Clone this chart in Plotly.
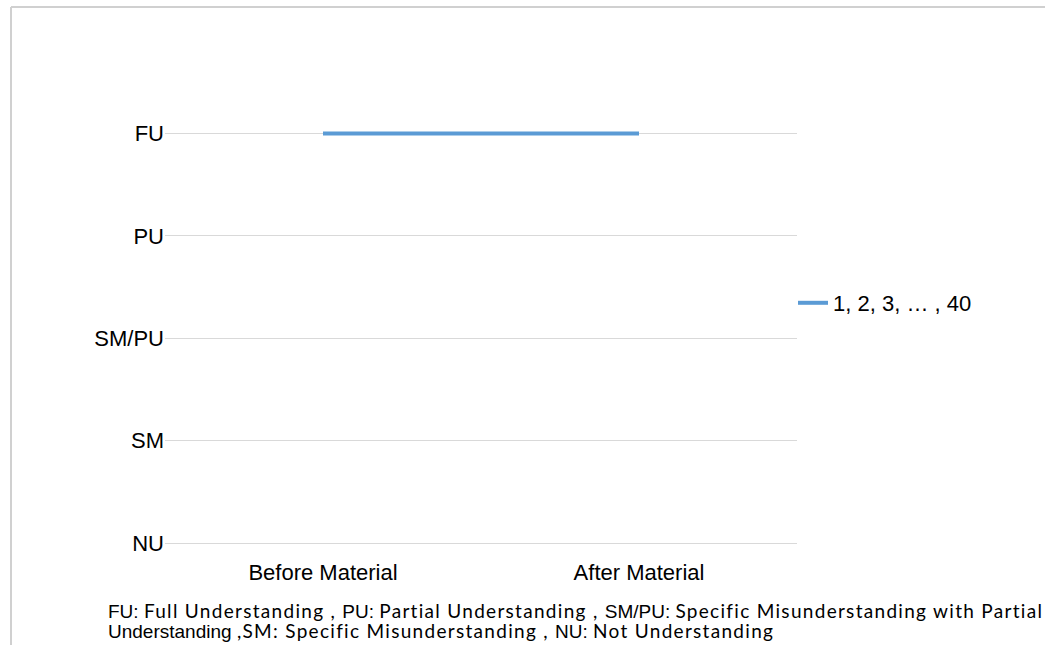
import plotly.graph_objects as go

# Understanding levels, lowest to highest
levels = ["NU", "SM", "SM/PU", "PU", "FU"]
stages = ["Before Material", "After Material"]
group_scores = ["FU", "FU"]
series_name = "1, 2, 3, \u2026 , 40"

W, H = 1045, 645
L, R, T, B = 165, 248, 31, 102

y_vals = [levels.index(s) for s in group_scores]

fig = go.Figure()
fig.add_trace(go.Scatter(
    x=stages, y=y_vals, mode="lines", name=series_name,
    line=dict(color="#5B9BD5", width=4),
    showlegend=True,
))

def px_x(p):
    return (p - L) / (W - L - R)

def px_y(p):
    return (H - B - p) / (H - T - B)

frame = "#d0d0d0"
fig.add_shape(type="line", xref="paper", yref="paper",
              x0=px_x(11), x1=px_x(1045), y0=px_y(7), y1=px_y(7),
              line=dict(color=frame, width=2))
fig.add_shape(type="line", xref="paper", yref="paper",
              x0=px_x(11), x1=px_x(11), y0=px_y(7), y1=px_y(645),
              line=dict(color=frame, width=2))

arial = "font-family:Arial, Liberation Sans, sans-serif;font-size:19px"
cal = "font-family:Lato, sans-serif;font-size:19px;letter-spacing:1.3px"

def a(t):
    return f"<span style='{arial}'>{t}</span>"

def c(t):
    return f"<span style='{cal}'>{t}</span>"

note = (
    a("FU: ") + c("Full Understanding , ") + a("PU: ") + c("Partial Understanding , ")
    + a("SM/PU: ") + c("Specific Misunderstanding with Partial") + "<br>"
    + a("Understanding ") + c(",SM: Specific Misunderstanding , ") + a("NU: ")
    + c("Not Understanding")
)
fig.add_annotation(xref="paper", yref="paper", x=px_x(106), y=px_y(597),
                   xanchor="left", yanchor="top", align="left", showarrow=False,
                   text=note, font=dict(family="Arial, Liberation Sans", size=15.5, color="#000"))

tick_font = dict(family="Arial, Liberation Sans", size=22, color="#000")
fig.update_xaxes(type="category", range=[-0.5, 1.5], showgrid=False, showline=False,
                 zeroline=False, ticks="", ticklabelstandoff=14, tickfont=tick_font)
fig.update_yaxes(range=[0, 5], tickvals=[0, 1, 2, 3, 4, 5],
                 ticktext=levels + [""], showgrid=True, gridcolor="#d9d9d9",
                 gridwidth=1, zeroline=True, zerolinecolor="#d9d9d9", zerolinewidth=1,
                 showline=False, ticks="", ticklabelstandoff=0, tickfont=tick_font)

fig.update_layout(
    width=W, height=H,
    margin=dict(l=L, r=R, t=T, b=B),
    paper_bgcolor="white", plot_bgcolor="white",
    legend=dict(x=px_x(793), y=px_y(303), xanchor="left", yanchor="middle",
                font=tick_font, bgcolor="rgba(0,0,0,0)"),
)

fig.write_html("out.html")
